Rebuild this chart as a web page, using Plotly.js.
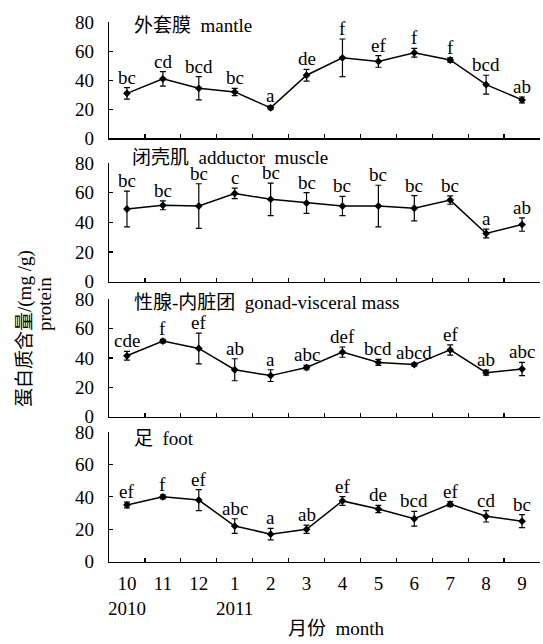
<!DOCTYPE html>
<html>
<head>
<meta charset="utf-8">
<script src="https://cdn.plot.ly/plotly-3.0.1.min.js"></script>
<style>html,body{margin:0;padding:0;background:#fff;}#chart{width:543px;height:644px;}</style>
</head>
<body>
<div id="chart"></div>
<script>
// Months (Oct 2010 – Sep 2011)
const months = ["10","11","12","1","2","3","4","5","6","7","8","9"];
const monthTickText = ["10<br>2010","11","12","1<br>2011","2","3","4","5","6","7","8","9"];

// Panel titles
const panelTitles = [
  "外套膜\u00a0\u00a0mantle",
  "闭壳肌\u00a0\u00a0adductor\u00a0\u00a0muscle",
  "性腺-内脏团\u00a0\u00a0gonad-visceral mass",
  "足\u00a0\u00a0foot"
];

// Mantle
const mantleMean = [31, 41, 34.5, 32, 21, 43.5, 55.5, 53, 59, 54, 37, 26.5];
const mantleErr  = [4, 5, 8, 2.5, 1.3, 4, 13, 4, 3, 1.5, 6.5, 2];
const mantleLetters = ["bc","cd","bcd","bc","a","de","f","ef","f","f","bcd","ab"];

// Adductor muscle
const adductorMean = [49, 51.5, 51, 59.5, 55.5, 53, 51, 51, 49.5, 55, 32.5, 38.5];
const adductorErr  = [12, 3, 15, 3.5, 11, 7, 6.5, 14, 8.5, 2.8, 3, 4.5];
const adductorLetters = ["bc","bc","bc","c","bc","bc","bc","bc","bc","bc","a","ab"];

// Gonad-visceral mass
const gonadMean = [41.5, 51.5, 46.5, 32, 28, 33.5, 44, 37, 35.5, 45.5, 30, 32.5];
const gonadErr  = [3, 1.2, 10.5, 7.5, 4, 1.5, 3.5, 2, 1, 3.5, 1.7, 4.5];
const gonadLetters = ["cde","f","ef","ab","a","abc","def","bcd","abcd","ef","ab","abc"];

// Foot
const footMean = [35, 40, 38, 22, 17, 20, 37.5, 32.5, 26.5, 35.5, 28, 25];
const footErr  = [1.8, 1.3, 6.5, 4.5, 3.5, 2.5, 2.7, 2.2, 4.5, 1.5, 3.5, 4];
const footLetters = ["ef","f","ef","abc","a","ab","ef","de","bcd","ef","cd","bc"];

const yTicks = [0, 20, 40, 60, 80];

const series = [
  {mean: mantleMean, err: mantleErr, letters: mantleLetters},
  {mean: adductorMean, err: adductorErr, letters: adductorLetters},
  {mean: gonadMean, err: gonadErr, letters: gonadLetters},
  {mean: footMean, err: footErr, letters: footLetters}
];

const H = 644, L = 109, W = 431;
// pixel positions of y=0 and y=80 for each panel
const panelPix = [[138.3, 22.3], [281.7, 163], [416.7, 299.3], [561.7, 432]];
const titlePix = [[131.7, 25], [130, 157], [131.7, 302.5], [131.7, 438]];

const FONT = "'Liberation Serif', 'Times New Roman', 'Noto Sans CJK SC', serif";
const fs = 19;

const data = [];
const annotations = [];
const layout = {
  width: 543, height: 644,
  margin: {l: L, r: 3, t: 0, b: 0},
  paper_bgcolor: "#fff", plot_bgcolor: "#fff",
  showlegend: false,
  font: {family: FONT, size: fs, color: "#000"},
  annotations: annotations
};

series.forEach((s, i) => {
  const n = i + 1;
  const xa = n === 1 ? "x" : "x" + n;
  const ya = n === 1 ? "y" : "y" + n;
  data.push({
    type: "scatter", mode: "lines+markers",
    x: months, y: s.mean,
    xaxis: xa, yaxis: ya,
    line: {color: "#000", width: 1.5},
    marker: {symbol: "diamond", size: 6, color: "#000"},
    error_y: {type: "data", array: s.err, visible: true, color: "#000", thickness: 1.2, width: 3},
    cliponaxis: false
  });
  const [p0, p80] = panelPix[i];
  layout["xaxis" + (n === 1 ? "" : n)] = {
    type: "category",
    domain: [0, 1],
    anchor: ya,
    range: [-0.5, 11.5],
    tickmode: "array",
    tickvals: months,
    ticktext: monthTickText,
    tickson: "boundaries",
    tickangle: 0,
    ticks: "inside", ticklen: 4, tickwidth: 1.2, tickcolor: "#000",
    ticklabelstandoff: 4,
    showticklabels: n === 4,
    tickfont: {family: FONT, size: fs, color: "#000"},
    showline: true, linecolor: "#000", linewidth: 1.3,
    showgrid: false, zeroline: false, fixedrange: true
  };
  layout["yaxis" + (n === 1 ? "" : n)] = {
    domain: [(H - p0) / H, (H - p80) / H],
    anchor: xa,
    range: [0, 80],
    tickmode: "array", tickvals: yTicks,
    ticks: "inside", ticklen: 4, tickwidth: 1.2, tickcolor: "#000",
    ticklabelstandoff: 10,
    tickfont: {family: FONT, size: fs, color: "#000"},
    showline: true, linecolor: "#000", linewidth: 1.3,
    showgrid: false, zeroline: false, fixedrange: true
  };
  // significance letters
  s.letters.forEach((t, k) => {
    annotations.push({
      xref: xa, yref: ya, x: k, y: s.mean[k] + s.err[k],
      text: t, showarrow: false, xanchor: "center", yanchor: "bottom",
      yshift: -2,
      font: {family: FONT, size: fs, color: "#000"}
    });
  });
  // panel title
  annotations.push({
    xref: "paper", yref: "paper",
    x: (titlePix[i][0] - L) / W, y: (H - titlePix[i][1]) / H,
    xanchor: "left", yanchor: "middle",
    text: panelTitles[i], showarrow: false,
    font: {family: FONT, size: fs, color: "#000"}
  });
});

// axis titles
annotations.push({
  xref: "paper", yref: "paper",
  x: (25 - L) / W, y: (H - 329) / H,
  xanchor: "center", yanchor: "middle", textangle: -90,
  text: "蛋白质含量/(mg /g)", showarrow: false,
  font: {family: FONT, size: fs, color: "#000"}
});
annotations.push({
  xref: "paper", yref: "paper",
  x: (44 - L) / W, y: (H - 304) / H,
  xanchor: "center", yanchor: "middle", textangle: -90,
  text: "protein", showarrow: false,
  font: {family: FONT, size: fs, color: "#000"}
});
annotations.push({
  xref: "paper", yref: "paper",
  x: (336 - L) / W, y: (H - 628) / H,
  xanchor: "center", yanchor: "middle",
  text: "月份\u00a0\u00a0month", showarrow: false,
  font: {family: FONT, size: fs, color: "#000"}
});

Plotly.newPlot("chart", data, layout, {displayModeBar: false, staticPlot: true});
</script>
</body>
</html>
